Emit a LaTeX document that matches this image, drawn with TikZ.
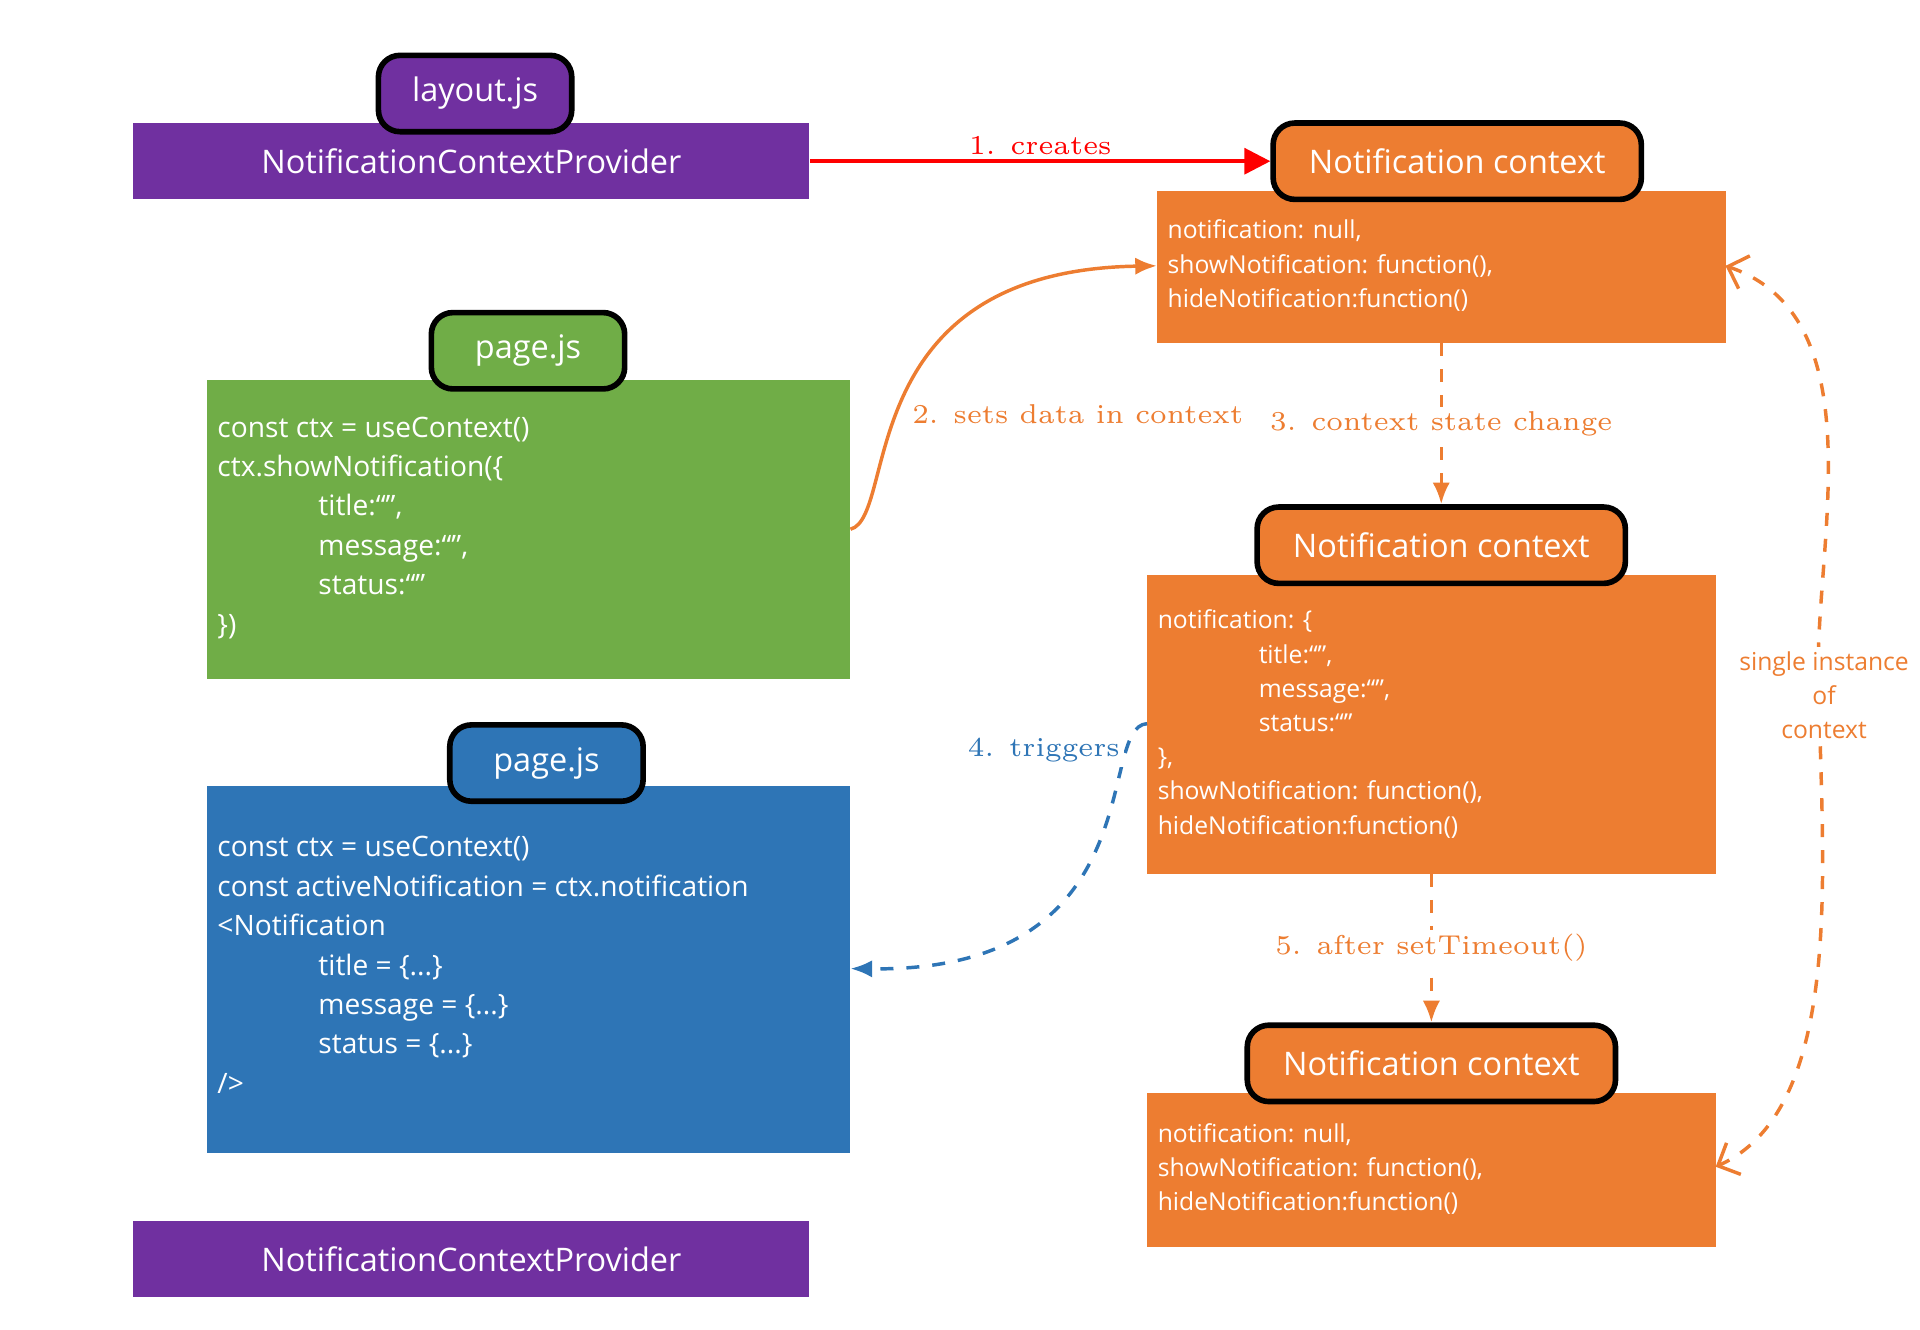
\documentclass[tikz,border=0pt]{standalone}
\usepackage{fontspec}
\usepackage{xcolor}
\usetikzlibrary{arrows.meta, positioning, calc}
\newfontfamily\uisans{Open Sans}
\definecolor{provpurple}{HTML}{7030A0}
\definecolor{ctxorange}{HTML}{ED7D31}
\definecolor{pagegreen}{HTML}{70AD47}
\definecolor{pageblue}{HTML}{2E75B6}
\tikzset{
    bar/.style={fill=provpurple, minimum width=5.49cm, minimum height=0.62cm, inner sep=0pt, text=white, font=\uisans\fontsize{7.5}{9}\selectfont},
    tab/.style={draw=black, line width=1.3pt, rounded corners=5pt, minimum width=1.57cm, minimum height=0.62cm, inner sep=0pt, text=white, font=\uisans\fontsize{7.5}{9}\selectfont},
    ctxtab/.style={tab, fill=ctxorange, minimum width=2.99cm},
    code/.style={anchor=north west, inner sep=0pt, align=left, text=white, font=\uisans\fontsize{6.5}{9.1}\selectfont},
    ctxcode/.style={anchor=north west, inner sep=0pt, align=left, text=white, font=\uisans\fontsize{5.7}{7.9}\selectfont},
    lbl/.style={font=\fontsize{6.3}{7.5}\selectfont, fill=white, inner sep=1pt},
    flow/.style={-{Latex[length=5pt,width=4pt]}, thick},
}
\newcommand{\ind}{\hspace*{0.82cm}}
\begin{document}
\begin{tikzpicture}[x=0.01cm, y=-0.01cm]
    \useasboundingbox (0,0) rectangle (1560,1080);
    % left column
    \node[bar] (prov) at (383,131) {NotificationContextProvider};
    \node[tab, fill=provpurple] (layout) at (386,76) {layout.js};
    \fill[pagegreen] (168,309) rectangle (691,552);
    \coordinate (greenout) at (691,430);
    \node[tab, fill=pagegreen] (pagea) at (429,285) {page.js};
    \node[code] (codea) at (176,338) {const ctx = useContext()\\ctx.showNotification(\{\\\ind title:“”,\\\ind message:“”,\\\ind status:“”\\\})};
    \fill[pageblue] (168,639) rectangle (691,937);
    \coordinate (bluein) at (691,787);
    \node[tab, fill=pageblue] (pageb) at (444,620) {page.js};
    \node[code] (codeb) at (176,679) {const ctx = useContext()\\const activeNotification = ctx.notification\\<Notification\\\ind title = \{...\}\\\ind message = \{...\}\\\ind status = \{...\}\\/>};
    \node[bar] (provb) at (383,1023) {NotificationContextProvider};
    % contexts
    \fill[ctxorange] (940,155) rectangle (1402,279);
    \coordinate (ctxatop) at (1171,279);
    \coordinate (ctxain) at (940,216);
    \coordinate (ctxaright) at (1402,216);
    \node[ctxtab] (ctxa) at (1184,131) {Notification context};
    \node[ctxcode] (dataa) at (948,178) {notification: null,\\showNotification: function(),\\hideNotification:function()};
    \fill[ctxorange] (932,467) rectangle (1394,710);
    \coordinate (ctxbout) at (932,588);
    \coordinate (ctxbbot) at (1163,710);
    \node[ctxtab] (ctxb) at (1171,443) {Notification context};
    \node[ctxcode] (datab) at (940,495) {notification: \{\\\ind title:“”,\\\ind message:“”,\\\ind status:“”\\\},\\showNotification: function(),\\hideNotification:function()};
    \fill[ctxorange] (932,888) rectangle (1394,1013);
    \coordinate (ctxcright) at (1394,948);
    \node[ctxtab] (ctxc) at (1163,864) {Notification context};
    \node[ctxcode] (datac) at (940,912) {notification: null,\\showNotification: function(),\\hideNotification:function()};
    % connectors
    \draw[flow, red, -{Triangle[length=6pt,width=6pt]}] (prov.east) -- node[lbl, above, fill=none, text=red] {1. creates} (ctxa.west);
    \draw[flow, ctxorange] (greenout) .. controls (730,420) and (690,220) .. (ctxain)
        node[pos=0.45, lbl, right, xshift=2pt, text=ctxorange] {2. sets data in context};
    \draw[flow, ctxorange, dashed] (ctxatop) -- node[lbl, text=ctxorange] {3. context state change} (ctxb.north);
    \draw[flow, pageblue, dashed] (ctxbout) .. controls (890,590) and (940,790) .. (bluein)
        node[pos=0.2, lbl, left, text=pageblue] {4. triggers};
    \draw[flow, ctxorange, dashed] (ctxbbot) -- node[lbl, text=ctxorange] {5. after setTimeout()} (ctxc.north);
    \draw[ctxorange, dashed, thick, {Straight Barb[length=4pt]}-{Straight Barb[length=4pt]}] (ctxaright) .. controls (1530,260) and (1470,460) .. (1478,565)
        .. controls (1480,700) and (1500,900) .. (ctxcright);
    \node[lbl, align=center, text=ctxorange, font=\uisans\fontsize{5.7}{7.9}\selectfont] (single) at (1482,565) {single instance\\of\\context};
\end{tikzpicture}
\end{document}
